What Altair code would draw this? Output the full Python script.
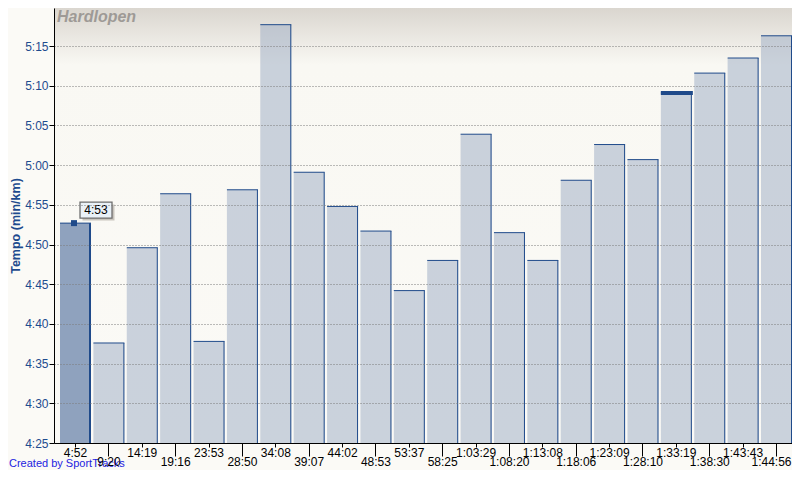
import json
import altair as alt
import pandas as pd

# ---- data ----
split_labels = ["4:52", "9:20", "14:19", "19:16", "23:53", "28:50", "34:08", "39:07",
                "44:02", "48:53", "53:37", "58:25", "1:03:29", "1:08:20", "1:13:08",
                "1:18:06", "1:23:09", "1:28:10", "1:33:19", "1:38:30", "1:43:43", "1:44:56"]
pace_seconds = [292.7, 277.6, 289.6, 296.4, 277.8, 296.9, 317.7, 299.1, 294.8, 291.7, 284.2,
                288.0, 303.9, 291.5, 288.0, 298.1, 302.6, 300.7, 309.1, 311.6, 313.5, 316.3]
y_tick_values = [265, 270, 275, 280, 285, 290, 295, 300, 305, 310, 315]
selected_km = 0
highlight_km = 18
chart_title = "Hardlopen"
y_title = "Tempo (min/km)"
credit = "Created by SportTracks"

W, H = 738, 435
Y_MIN, Y_MAX = 265, 319.8
DARK = "#1F4A8A"
LABEL_BLUE = "#1E4B8E"
FONT = "Liberation Sans"
LAST = len(split_labels) - 1


def fmt(s):
    s = int(round(s))
    return f"{s // 60}:{s % 60:02d}"


df = pd.DataFrame({"km": list(range(len(pace_seconds))), "pace": pace_seconds,
                   "split": split_labels})
df["tip"] = [fmt(v) for v in pace_seconds]
df["sel"] = df["km"] == selected_km

xscale = alt.Scale(type="band", paddingInner=0.0713, paddingOuter=0.09, align=1)
yscale = alt.Scale(domain=[Y_MIN, Y_MAX], nice=False, zero=False)

label_expr = json.dumps(split_labels) + "[datum.value]"
x_axis = alt.Axis(
    labelExpr=label_expr, labelAngle=0, labelOverlap=False,
    labelAlign={"condition": {"test": f"datum.value == {LAST}", "value": "right"}, "value": "center"},
    labelOffset={"condition": {"test": f"datum.value == {LAST}", "value": 15}, "value": 0},
    labelFont=FONT, labelFontSize=12, labelColor="black", labelPadding=0,
    tickColor="black", tickWidth=1,
    tickSize={"condition": {"test": "datum.value % 2 == 1", "value": 13}, "value": 4},
    domainColor="black", domainWidth=1, grid=False, zindex=1,
)
y_axis = alt.Axis(
    values=y_tick_values,
    labelExpr="floor(datum.value/60) + ':' + (datum.value % 60 < 10 ? '0' : '') + (datum.value % 60)",
    labelFont=FONT, labelFontSize=12, labelColor=LABEL_BLUE, labelPadding=1,
    tickSize=5, tickColor="black", domainColor="black", domainWidth=1,
    grid=True, gridColor="#7A7A7A", gridDash=[1, 2], gridWidth=1, zindex=1,
    titleFont=FONT, titleFontSize=12.5, titleFontWeight="bold",
    titleColor=LABEL_BLUE, titleAngle=-90, titleX=-39, titleY=H / 2,
    titleAlign="center", titleBaseline="middle",
)


def X(pos=None):
    if pos is None:
        return alt.X("km:O", scale=xscale, axis=x_axis, title=None)
    return alt.X("km:O", scale=xscale, axis=x_axis, title=None, bandPosition=pos)


def Y():
    return alt.Y("pace:Q", scale=yscale, axis=y_axis, title=y_title)


base = alt.Chart(df)

gradient = {
    "gradient": "linear", "x1": 0, "y1": 0, "x2": 0, "y2": 1,
    "stops": [
        {"offset": 0, "color": "#DAD6CF"},
        {"offset": 0.05, "color": "#E6E3DD"},
        {"offset": 0.13, "color": "#F9F8F3"},
        {"offset": 1, "color": "#FBFAF6"},
    ],
}
bg = alt.Chart(pd.DataFrame({"a": [0]})).mark_rect(fill=gradient).encode(
    x=alt.value(0), x2=alt.value(W), y=alt.value(0), y2=alt.value(H)
)

bars = base.mark_bar(stroke=None).encode(
    x=X(),
    y=Y(),
    y2=alt.datum(Y_MIN),
    fill=alt.condition("datum.sel", alt.value("#8FA2BE"), alt.value("#A3B0C6")),
    fillOpacity=alt.condition("datum.sel", alt.value(1), alt.value(0.55)),
)

tops = base.mark_tick(thickness=1, size=31, color=DARK, opacity=1).encode(x=X(0.5), y=Y())

rights = base.transform_filter(alt.datum.km != selected_km).mark_rule(
    color=DARK, strokeWidth=1, xOffset=-0.5).encode(
    x=X(1), y=Y(), y2=alt.datum(Y_MIN),
)
rights_sel = base.transform_filter(alt.datum.km == selected_km).mark_rule(
    color=DARK, strokeWidth=2, xOffset=-1).encode(
    x=X(1), y=Y(), y2=alt.datum(Y_MIN),
)

hl = base.transform_filter(alt.datum.km == highlight_km).mark_tick(
    thickness=4, size=32, color=DARK, opacity=1, xOffset=0.5
).encode(x=X(0.5), y=Y())

sel = base.transform_filter(alt.datum.km == selected_km)
marker = sel.mark_square(size=36, color=DARK, opacity=1, filled=True, xOffset=-1.5).encode(
    x=X(0.5), y=Y())

box_shape = "M-1,-0.5L1,-0.5L1,0.5L-1,0.5Z"
shadow = sel.mark_point(shape=box_shape, size=1024, filled=True, fill="#C9C5BE",
                        stroke=None, opacity=1, xOffset=23, yOffset=-10.5).encode(
    x=X(0.5), y=Y())
box = sel.mark_point(shape=box_shape, size=1024, filled=True, fill="#EAF1F7",
                     stroke="#6E6E6E", strokeWidth=1.3, opacity=1,
                     xOffset=20.5, yOffset=-13).encode(x=X(0.5), y=Y())
tip = sel.mark_text(font=FONT, fontSize=12, color="black", dx=20.5, dy=-13,
                    align="center", baseline="middle").encode(x=X(0.5), y=Y(), text="tip:N")

title = alt.Chart(pd.DataFrame({"t": [chart_title]})).mark_text(
    font=FONT, fontSize=16, fontStyle="italic", fontWeight="bold", color="#9E9A96",
    align="left", baseline="alphabetic"
).encode(x=alt.value(3), y=alt.value(14), text="t:N")

cred = alt.Chart(pd.DataFrame({"t": [credit]})).mark_text(
    font=FONT, fontSize=11, color="#2323E0", align="left", baseline="alphabetic"
).encode(x=alt.value(-45), y=alt.value(459), text="t:N")

chart = alt.layer(bg, bars, tops, rights, rights_sel, hl, marker, shadow, box, tip,
                  title, cred).properties(
    width=W, height=H,
    background="#FBFAF6",
    padding={"left": 46, "top": 0, "right": 0, "bottom": 27},
    autosize=alt.AutoSizeParams(type="none"),
).configure_view(stroke=None)

chart.save("out.html", embed_options={"renderer": "svg", "actions": False})
